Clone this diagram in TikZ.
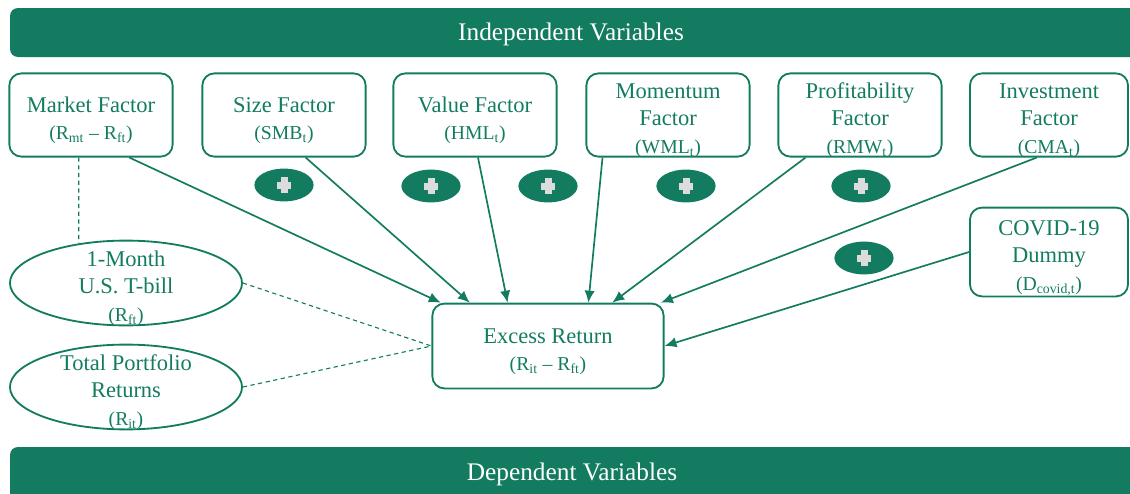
\documentclass[tikz,border=0pt]{standalone}
\usepackage{fontspec}
\setmainfont{Liberation Serif}
\usepackage{xcolor}
\usepackage{tikz}
\usetikzlibrary{positioning,shapes.geometric,arrows.meta}
\definecolor{fgreen}{RGB}{19,124,96}
\definecolor{pgray}{RGB}{220,220,220}
\newcommand\formula[1]{{\fontsize{14}{19.5}\selectfont #1}}
\newcommand\topline{\rule{0pt}{15.5pt}}

\begin{document}
\begin{tikzpicture}[x=0.025cm,y=-0.025cm,
  txt/.style={text=fgreen,align=center,font=\fontsize{16}{19.5}\selectfont,text depth=0pt},
  bantxt/.style={text=white,font=\fontsize{18}{21}\selectfont},
  factor/.style={txt,draw=fgreen,line width=1.3pt,rounded corners=0.3cm,minimum width=4.08cm,minimum height=2.08cm,inner sep=1pt},
  oval/.style={draw=fgreen,line width=1.3pt,ellipse,minimum width=5.8cm,minimum height=2.12cm,inner sep=0pt},
  plusoval/.style={fill=fgreen,ellipse,minimum width=1.48cm,minimum height=0.82cm,inner sep=0pt},
  arr/.style={fgreen,line width=1.2pt,-{Latex[length=3mm,width=2.6mm]}},
  dashline/.style={fgreen,line width=0.8pt,dash pattern=on 3pt off 2.5pt}]
\useasboundingbox (0,0) rectangle (1130,493);
      \fill[fgreen,rounded corners=0.2cm] (10,8) rectangle (1145,57);
      \node[bantxt] (indep) at (571,34) {Independent Variables};
      \fill[fgreen,rounded corners=0.2cm] (10,447) rectangle (1145,520);
      \node[bantxt] (dep) at (572,474) {Dependent Variables};

      \node[factor] (market) at (91,115) {\topline Market Factor\\\formula{(R\textsubscript{mt} -- R\textsubscript{ft})}};
      \node[factor] (size) at (284,115) {\topline Size Factor\\\formula{(SMB\textsubscript{t})}};
      \node[factor] (value) at (475,115) {\topline Value Factor\\\formula{(HML\textsubscript{t})}};
      \node[factor] (momentum) at (668,115) {\topline Momentum\\Factor\\\formula{(WML\textsubscript{t})}};
      \node[factor] (profit) at (860,115) {\topline Profitability\\Factor\\\formula{(RMW\textsubscript{t})}};
      \node[factor,minimum width=3.95cm] (invest) at (1049,115) {\topline Investment\\Factor\\\formula{(CMA\textsubscript{t})}};
      \node[factor,minimum width=3.95cm,minimum height=2.22cm] (covid) at (1049,252) {\topline COVID-19\\Dummy\\\formula{(D\textsubscript{covid,t})}};
      \node[factor,minimum width=5.78cm,minimum height=2.12cm] (excess) at (548,346) {\topline Excess Return\\\formula{(R\textsubscript{it} -- R\textsubscript{ft})}};

      \node[oval] (tbill) at (126,283) {};
      \node[txt] (tbilltxt) at (tbill) {\topline 1-Month\\U.S. T-bill\\\formula{(R\textsubscript{ft})}};
      \node[oval] (total) at (126,387) {};
      \node[txt] (totaltxt) at (total) {\topline Total Portfolio\\Returns\\\formula{(R\textsubscript{it})}};

      \foreach \px/\py [count=\i] in {284/185,431/186,548/186,686/186,861/186,864/258}{
        \node[plusoval] (plus\i) at (\px,\py) {};
        \begin{scope}[shift={(plus\i.center)}]
          \fill[pgray] (-7,-3.5) rectangle (7,3.5);
          \fill[pgray] (-3.5,-8) rectangle (3.5,8);
        \end{scope}
      }

      \draw[arr] (market.312) -- (excess.158);
      \draw[arr] (size.297) -- (excess.151);
      \draw[arr] (value.274) -- (excess.133);
      \draw[arr] (momentum.213) -- (excess.47);
      \draw[arr] (profit.218) -- (excess.34);
      \draw[arr] (invest.254) -- (excess.21);
      \draw[arr] (covid.west) -- (excess.east);

      \draw[dashline] (market.254) -- (tbill.140);
      \draw[dashline] (tbill.east) -- (excess.west);
      \draw[dashline] (total.east) -- (excess.west);
\end{tikzpicture}
\end{document}
